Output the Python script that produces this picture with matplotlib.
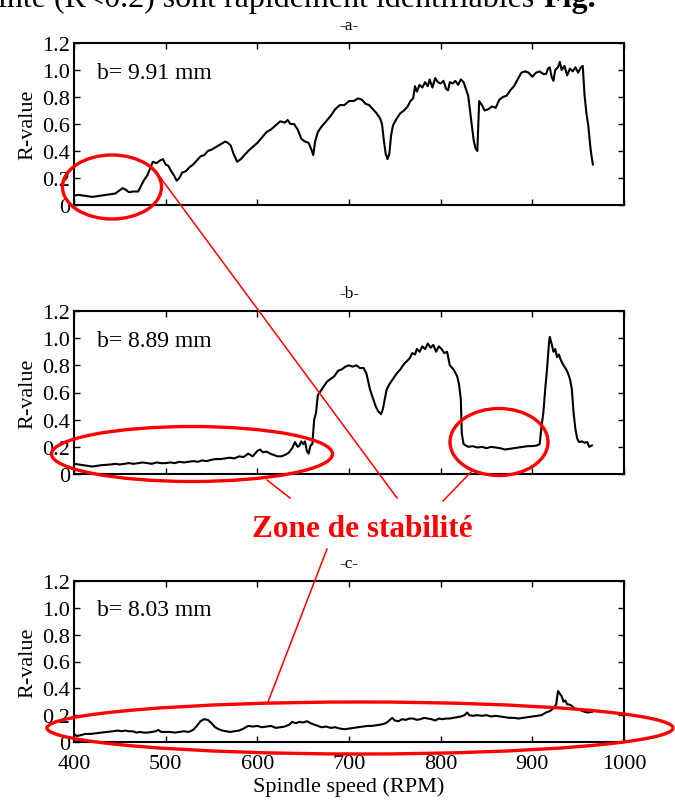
import matplotlib
matplotlib.use("Agg")
import matplotlib.pyplot as plt
from matplotlib.patches import Ellipse
from matplotlib.ticker import FuncFormatter

plt.rcParams["font.family"] = ["Liberation Serif", "DejaVu Serif"]

# -a- b = 9.91 mm
rpm_a = [400, 405, 410, 415, 420, 425, 430, 435, 440, 445, 450, 453, 456, 460, 465, 470,
         473, 476, 480, 483, 486, 490, 494, 497, 500, 503, 506, 509, 512, 515, 518, 522,
         526, 530, 534, 538, 542, 546, 550, 555, 560, 565, 568, 571, 574, 578, 582, 586,
         590, 595, 600, 605, 610, 615, 620, 625, 630, 633, 636, 640, 644, 648, 652, 656,
         659, 661, 663, 666, 670, 675, 680, 685, 690, 695, 700, 705, 710, 714, 718, 722,
         726, 730, 734, 736, 738, 740, 742, 744, 746, 748, 752, 756, 760, 764, 767, 770,
         772, 774, 777, 780, 783, 786, 788, 791, 794, 797, 800, 803, 806, 808, 810, 813,
         816, 819, 822, 825, 828, 830, 832, 834, 836, 838, 840, 842, 845, 848, 852, 856,
         860, 864, 868, 872, 876, 880, 884, 888, 892, 896, 900, 904, 908, 912, 915, 917,
         919, 921, 923, 925, 928, 930, 932, 935, 938, 941, 944, 947, 950, 953, 955, 957,
         959, 961, 963, 964, 966]
r_a = [0.07, 0.075, 0.07, 0.065, 0.06, 0.065, 0.07, 0.075, 0.08, 0.085, 0.11, 0.125, 0.115, 0.095, 0.10, 0.10,
       0.14, 0.18, 0.22, 0.27, 0.32, 0.31, 0.33, 0.34, 0.30, 0.29, 0.25, 0.22, 0.18, 0.20, 0.24, 0.25,
       0.28, 0.30, 0.33, 0.36, 0.37, 0.40, 0.41, 0.43, 0.45, 0.47, 0.46, 0.44, 0.38, 0.32, 0.34, 0.37,
       0.40, 0.43, 0.46, 0.50, 0.54, 0.56, 0.59, 0.62, 0.61, 0.63, 0.60, 0.60, 0.56, 0.49, 0.47, 0.46,
       0.41, 0.37, 0.47, 0.54, 0.58, 0.62, 0.66, 0.71, 0.74, 0.74, 0.77, 0.77, 0.79, 0.78, 0.75, 0.74,
       0.71, 0.68, 0.64, 0.60, 0.48, 0.38, 0.34, 0.38, 0.52, 0.59, 0.64, 0.68, 0.70, 0.73, 0.77, 0.79,
       0.88, 0.84, 0.89, 0.87, 0.91, 0.88, 0.93, 0.87, 0.94, 0.91, 0.90, 0.92, 0.86, 0.85, 0.91, 0.90,
       0.92, 0.89, 0.93, 0.91, 0.85, 0.81, 0.70, 0.59, 0.48, 0.42, 0.40, 0.77, 0.74, 0.70, 0.71, 0.73,
       0.72, 0.78, 0.80, 0.81, 0.85, 0.88, 0.93, 0.98, 0.99, 0.98, 0.95, 0.98, 0.99, 0.97, 0.97, 1.01,
       1.02, 0.95, 0.92, 1.00, 1.02, 1.06, 1.00, 1.03, 0.96, 1.01, 0.99, 1.02, 0.98, 1.02, 1.03, 0.81,
       0.68, 0.59, 0.45, 0.39, 0.30]

# -b- b = 8.89 mm
rpm_b = [400, 405, 410, 415, 420, 425, 430, 440, 445, 450, 455, 460, 465, 470, 475, 480,
         485, 490, 495, 500, 505, 510, 515, 520, 525, 530, 535, 540, 545, 550, 555, 560,
         565, 570, 575, 580, 585, 590, 595, 600, 603, 606, 610, 614, 618, 622, 626, 630,
         634, 638, 641, 644, 646, 648, 650, 652, 654, 656, 658, 660, 662, 664, 666, 668,
         672, 676, 680, 684, 688, 692, 696, 700, 704, 708, 712, 716, 719, 721, 723, 726,
         729, 732, 735, 737, 739, 741, 744, 748, 752, 756, 760, 763, 766, 769, 772, 774,
         777, 780, 783, 786, 789, 792, 795, 798, 801, 804, 807, 810, 814, 818, 820, 822,
         823, 825, 830, 835, 840, 845, 850, 855, 860, 865, 870, 875, 880, 885, 890, 895,
         900, 905, 908, 910, 912, 914, 916, 918, 919, 921, 923, 925, 927, 929, 931, 934,
         937, 939, 941, 943, 945, 947, 949, 951, 954, 957, 960, 962, 965]
r_b = [0.075, 0.07, 0.065, 0.06, 0.055, 0.06, 0.065, 0.07, 0.075, 0.07, 0.075, 0.08, 0.075, 0.08, 0.085, 0.08,
       0.075, 0.085, 0.08, 0.08, 0.085, 0.08, 0.09, 0.085, 0.09, 0.095, 0.09, 0.10, 0.095, 0.105, 0.11, 0.11,
       0.115, 0.12, 0.115, 0.13, 0.125, 0.15, 0.13, 0.17, 0.18, 0.16, 0.165, 0.15, 0.14, 0.13, 0.13, 0.14,
       0.155, 0.19, 0.235, 0.20, 0.21, 0.24, 0.22, 0.24, 0.17, 0.15, 0.21, 0.22, 0.40, 0.45, 0.58, 0.60,
       0.64, 0.68, 0.70, 0.72, 0.76, 0.77, 0.79, 0.80, 0.79, 0.80, 0.78, 0.78, 0.74, 0.68, 0.62, 0.56,
       0.50, 0.46, 0.44, 0.48, 0.55, 0.62, 0.66, 0.70, 0.74, 0.77, 0.81, 0.83, 0.85, 0.89, 0.88, 0.92,
       0.90, 0.94, 0.92, 0.96, 0.93, 0.95, 0.90, 0.94, 0.92, 0.89, 0.90, 0.80, 0.77, 0.72, 0.66, 0.55,
       0.30, 0.22, 0.20, 0.205, 0.195, 0.20, 0.19, 0.20, 0.195, 0.19, 0.18, 0.185, 0.19, 0.195, 0.20, 0.205,
       0.205, 0.21, 0.22, 0.35, 0.45, 0.62, 0.77, 0.95, 1.01, 0.96, 0.90, 0.92, 0.86, 0.88, 0.84, 0.80,
       0.77, 0.74, 0.70, 0.63, 0.45, 0.33, 0.26, 0.235, 0.24, 0.23, 0.235, 0.20, 0.21]

# -c- b = 8.03 mm
rpm_c = [400, 403, 407, 412, 418, 424, 430, 436, 442, 448, 452, 456, 460, 464, 468, 472,
         476, 480, 485, 489, 492, 495, 500, 505, 510, 515, 520, 525, 530, 534, 538, 542,
         546, 550, 554, 558, 562, 566, 570, 575, 580, 585, 590, 595, 600, 605, 610, 615,
         620, 625, 630, 635, 638, 642, 646, 650, 654, 658, 662, 666, 670, 675, 680, 685,
         690, 695, 700, 705, 710, 715, 720, 725, 730, 735, 740, 744, 747, 750, 754, 758,
         762, 766, 770, 774, 778, 782, 786, 790, 794, 798, 802, 806, 810, 814, 818, 822,
         826, 829, 831, 835, 840, 845, 850, 855, 860, 865, 870, 875, 880, 885, 890, 895,
         900, 905, 910, 915, 919, 923, 926, 928, 930, 932, 934, 936, 938, 940, 943, 946,
         950, 955, 960, 965]
r_c = [0.06, 0.045, 0.05, 0.06, 0.06, 0.065, 0.07, 0.075, 0.08, 0.085, 0.08, 0.085, 0.08, 0.08, 0.07, 0.075,
       0.07, 0.07, 0.075, 0.08, 0.09, 0.075, 0.075, 0.075, 0.07, 0.075, 0.08, 0.075, 0.09, 0.12, 0.155, 0.17,
       0.165, 0.14, 0.11, 0.095, 0.085, 0.08, 0.075, 0.08, 0.085, 0.10, 0.12, 0.115, 0.12, 0.11, 0.115, 0.12,
       0.105, 0.11, 0.115, 0.13, 0.15, 0.14, 0.15, 0.145, 0.155, 0.14, 0.13, 0.12, 0.11, 0.115, 0.105, 0.11,
       0.10, 0.095, 0.10, 0.105, 0.11, 0.115, 0.12, 0.12, 0.125, 0.13, 0.14, 0.16, 0.18, 0.16, 0.155, 0.17,
       0.165, 0.175, 0.175, 0.165, 0.17, 0.18, 0.175, 0.17, 0.16, 0.175, 0.17, 0.175, 0.175, 0.18, 0.185, 0.19,
       0.20, 0.22, 0.20, 0.195, 0.20, 0.195, 0.20, 0.19, 0.195, 0.19, 0.185, 0.18, 0.18, 0.175, 0.18, 0.185,
       0.19, 0.195, 0.20, 0.22, 0.23, 0.25, 0.28, 0.38, 0.36, 0.34, 0.30, 0.31, 0.28, 0.28, 0.27, 0.25,
       0.245, 0.23, 0.22, 0.225]

panels = [("-a-", "b= 9.91 mm", rpm_a, r_a),
          ("-b-", "b= 8.89 mm", rpm_b, r_b),
          ("-c-", "b= 8.03 mm", rpm_c, r_c)]
x_ticks = [400, 500, 600, 700, 800, 900, 1000]
y_ticks = [0, 0.2, 0.4, 0.6, 0.8, 1.0, 1.2]

W, H = 675, 804
fig = plt.figure(figsize=(W / 100, H / 100), dpi=100)

# axes boxes in pixels: (top, bottom)
boxes = [(44, 206), (312, 475), (582, 743)]
left, right = 74, 624

for (title, label, xs, ys), (top, bot) in zip(panels, boxes):
    ax = fig.add_axes([left / W, 1 - bot / H, (right - left) / W, (bot - top) / H])
    ax.plot(xs, ys, color="black", linewidth=1.5)
    ax.set_xlim(400, 1000)
    ax.set_ylim(0, 1.2)
    ax.set_xticks(x_ticks)
    ax.set_yticks(y_ticks)
    ax.yaxis.set_major_formatter(FuncFormatter(lambda v, p: "0" if v == 0 else f"{v:.1f}"))
    ax.tick_params(direction="in", top=True, right=True, length=4, width=1,
                   labelsize=16, pad=3)
    ax.tick_params(axis="x", pad=9)
    for s in ax.spines.values():
        s.set_linewidth(1.5)
    ax.set_ylabel("R-value", fontsize=16, labelpad=3)
    ax.text(0.042, 0.82, label, transform=ax.transAxes, fontsize=17, va="center")
    ax.set_title(title, fontsize=12.5, pad=10)
    if title != "-c-":
        ax.tick_params(labelbottom=False)
    else:
        ax.set_xlabel("Spindle speed (RPM)", fontsize=16, labelpad=2)

# red overlay, in pixel coordinates of the page
ov = fig.add_axes([0, 0, 1, 1], zorder=10)
ov.set_xlim(0, W)
ov.set_ylim(H, 0)
ov.axis("off")
ov.patch.set_alpha(0)

red = "#ff0000"
for cx, cy, w, h in [(112, 188, 99, 64), (192, 455, 281, 55),
                     (499, 443, 98, 67), (360, 729, 626, 52)]:
    ov.add_patch(Ellipse((cx, cy), w, h, fill=False, edgecolor=red, linewidth=2.4))
for (x0, y0), (x1, y1) in [((160, 178), (397, 499)), ((267, 481), (290, 499)),
                           ((472, 472), (443, 502)), ((268, 703), (327, 550))]:
    ov.plot([x0, x1], [y0, y1], color=red, linewidth=1.1)

ov.text(362, 530, "Zone de stabilité", color=red, fontsize=22.5, fontweight="bold",
        ha="center", va="center")

# cropped line of the page text above the figure
ov.text(-2, 7, "inte (R<0.2) sont rapidement identifiables", fontsize=23,
        va="baseline", ha="left", clip_on=False)
ov.text(543, 7, "Fig.", fontsize=23, fontweight="bold", va="baseline", ha="left")

fig.savefig("out.png", dpi=100)
